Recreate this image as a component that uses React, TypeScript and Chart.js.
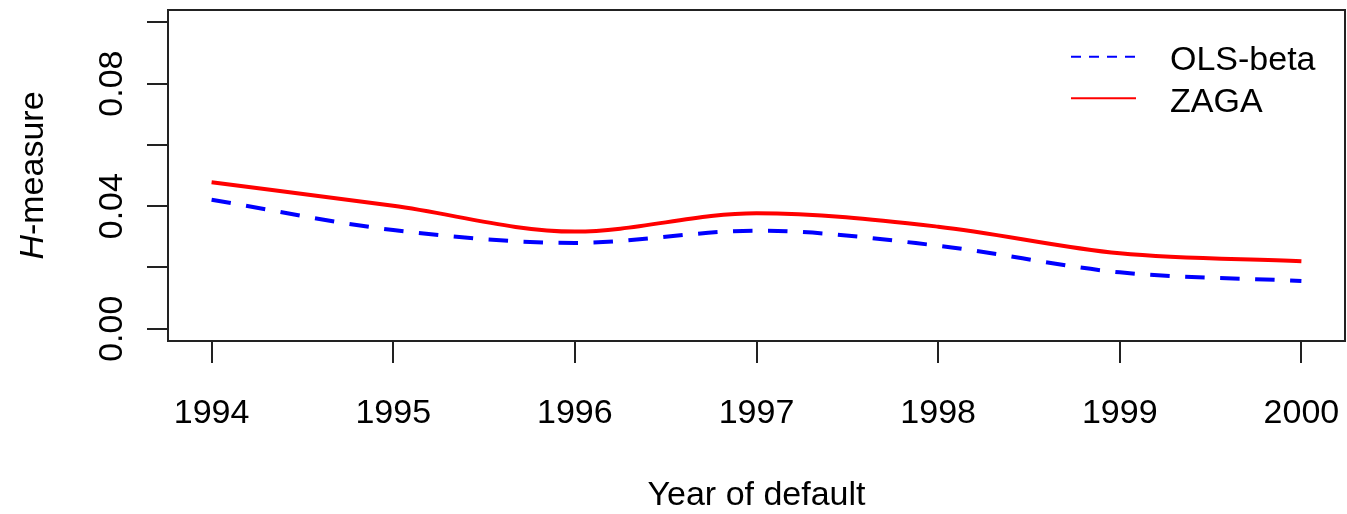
import React, { useEffect, useRef } from "react";
import { Chart, registerables } from "chart.js";

Chart.register(...registerables);

// ---- data ----
const years = [1994, 1995, 1996, 1997, 1998, 1999, 2000];
const olsBeta = [0.0421, 0.0322, 0.028, 0.032, 0.0271, 0.0184, 0.0156];
const zaga = [0.0478, 0.0401, 0.0317, 0.0377, 0.0333, 0.0246, 0.022];
const seriesNames = ["OLS-beta", "ZAGA"];
const xTicks = [1994, 1995, 1996, 1997, 1998, 1999, 2000];
const xTickLabels = ["1994", "1995", "1996", "1997", "1998", "1999", "2000"];
const yTicks = [0, 0.02, 0.04, 0.06, 0.08, 0.1];
const yTickLabels = ["0.00", "", "0.04", "", "0.08", ""];
const xTitle = "Year of default";
const yTitleItalic = "H";
const yTitleRest = "-measure";

const FONT = '"Liberation Sans", Arial, Helvetica, sans-serif';
const FS = 34;

export default function App() {
  const ref = useRef<HTMLCanvasElement>(null);

  useEffect(() => {
    document.documentElement.style.margin = "0";
    document.body.style.margin = "0";
    document.body.style.overflow = "hidden";
    const canvas = ref.current;
    if (!canvas) return;

    const rAxes = {
      id: "rAxes",
      afterDraw(chart: any) {
        const ctx = chart.ctx as CanvasRenderingContext2D;
        const { left, right, top, bottom } = chart.chartArea;
        const xs = chart.scales.x;
        const ys = chart.scales.y;
        ctx.save();
        // box
        ctx.strokeStyle = "#222";
        ctx.lineWidth = 2;
        ctx.setLineDash([]);
        ctx.strokeRect(left, top, right - left, bottom - top);
        // ticks
        ctx.beginPath();
        xTicks.forEach((v) => {
          const px = Math.round(xs.getPixelForValue(v));
          ctx.moveTo(px, bottom);
          ctx.lineTo(px, bottom + 22);
        });
        yTicks.forEach((v) => {
          const py = Math.round(ys.getPixelForValue(v));
          ctx.moveTo(left, py);
          ctx.lineTo(left - 21, py);
        });
        ctx.stroke();

        ctx.fillStyle = "#000";
        ctx.font = `${FS}px ${FONT}`;
        ctx.textAlign = "center";
        ctx.textBaseline = "alphabetic";
        // x tick labels
        xTicks.forEach((v, i) => {
          ctx.fillText(xTickLabels[i], xs.getPixelForValue(v), bottom + 82);
        });
        // y tick labels (rotated)
        yTicks.forEach((v, i) => {
          if (!yTickLabels[i]) return;
          ctx.save();
          ctx.translate(left - 46, ys.getPixelForValue(v));
          ctx.rotate(-Math.PI / 2);
          ctx.fillText(yTickLabels[i], 0, 0);
          ctx.restore();
        });
        // x title
        ctx.fillText(xTitle, (left + right) / 2, bottom + 164);
        // y title
        ctx.save();
        ctx.translate(left - 125, (top + bottom) / 2);
        ctx.rotate(-Math.PI / 2);
        ctx.textAlign = "left";
        ctx.font = `italic ${FS}px ${FONT}`;
        const w1 = ctx.measureText(yTitleItalic).width;
        ctx.font = `${FS}px ${FONT}`;
        const w2 = ctx.measureText(yTitleRest).width;
        const start = -(w1 + w2) / 2;
        ctx.font = `italic ${FS}px ${FONT}`;
        ctx.fillText(yTitleItalic, start, 0);
        ctx.font = `${FS}px ${FONT}`;
        ctx.fillText(yTitleRest, start + w1, 0);
        ctx.restore();

        // legend
        const lx0 = right - 274;
        const lx1 = right - 209;
        const tx = right - 175;
        const rows = [
          { y: top + 46.7, color: "#0000ff", dash: [10, 8] },
          { y: top + 88.3, color: "#ff0000", dash: [] as number[] },
        ];
        rows.forEach((r, i) => {
          ctx.beginPath();
          ctx.strokeStyle = r.color;
          ctx.lineWidth = 2;
          ctx.setLineDash(r.dash);
          ctx.moveTo(lx0, r.y);
          ctx.lineTo(lx1, r.y);
          ctx.stroke();
          ctx.setLineDash([]);
          ctx.fillStyle = "#000";
          ctx.textAlign = "left";
          ctx.fillText(seriesNames[i], tx, r.y + 13.5);
        });
        ctx.restore();
      },
    };

    const chart = new Chart(canvas, {
      type: "line",
      data: {
        datasets: [
          {
            label: seriesNames[0],
            data: years.map((x, i) => ({ x, y: olsBeta[i] })),
            borderColor: "#0000ff",
            borderWidth: 4,
            borderDash: [19.5, 15.5],
            borderCapStyle: "butt",
            pointRadius: 0,
            cubicInterpolationMode: "monotone",
            fill: false,
          },
          {
            label: seriesNames[1],
            data: years.map((x, i) => ({ x, y: zaga[i] })),
            borderColor: "#ff0000",
            borderWidth: 4,
            pointRadius: 0,
            cubicInterpolationMode: "monotone",
            fill: false,
          },
        ],
      },
      options: {
        responsive: false,
        animation: false,
        layout: { padding: { left: 168, top: 10, right: 2, bottom: 173 } },
        scales: {
          x: { type: "linear", min: 1993.76, max: 2000.24, display: false },
          y: { type: "linear", min: -0.004, max: 0.104, display: false },
        },
        plugins: {
          legend: { display: false },
          tooltip: { enabled: false },
        },
      },
      plugins: [rAxes],
    } as any);

    return () => chart.destroy();
  }, []);

  return (
    <canvas
      ref={ref}
      width={1347}
      height={514}
      style={{ display: "block", width: 1347, height: 514, background: "#fff" }}
    />
  );
}
